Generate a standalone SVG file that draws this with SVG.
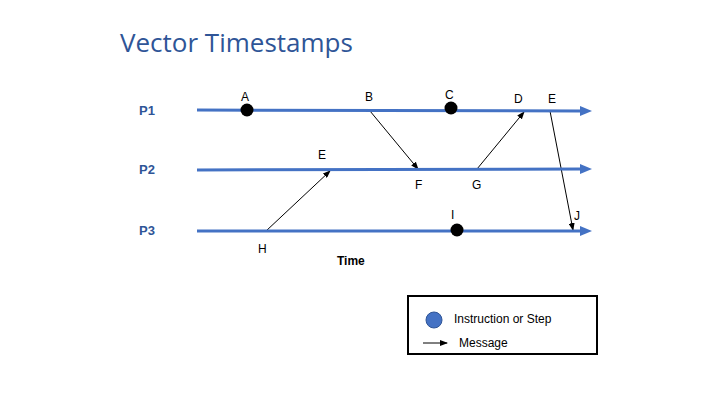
<svg xmlns="http://www.w3.org/2000/svg" width="720" height="405" viewBox="0 0 720 405">
<style>
.lbl{font-family:"Liberation Sans",Arial,sans-serif;font-size:12px;fill:#000}
.p{font-family:"Liberation Sans",Arial,sans-serif;font-size:13px;font-weight:bold;fill:#2F5597}
.tl{stroke:#4472C4;stroke-width:3;fill:none}
.msg{stroke:#000;stroke-width:1;fill:none;marker-end:url(#ah)}
</style>
<defs>
<marker id="ah" markerWidth="8" markerHeight="6" refX="7" refY="3" orient="auto" markerUnits="userSpaceOnUse">
<path d="M0,0 L8,3 L0,6 z" fill="#000"/>
</marker>
<marker id="bh" markerWidth="12" markerHeight="10" refX="2" refY="5" orient="auto" markerUnits="userSpaceOnUse">
<path d="M0,0 L12,5 L0,10 z" fill="#4472C4"/>
</marker>
</defs>
<rect width="720" height="405" fill="#fff"/>
<text x="120" y="52" font-family="Open Sans,Liberation Sans,sans-serif" font-size="26" fill="#2F5597">Vector Timestamps</text>

<g id="connectors">
<line class="msg" x1="370" y1="111" x2="418" y2="169"/>
<line class="msg" x1="477" y1="169" x2="524" y2="112"/>
<line class="msg" x1="266" y1="231" x2="330" y2="171"/>
<line class="msg" x1="550" y1="111" x2="573" y2="230"/>
</g>

<g id="P1">
<text class="p" x="139" y="115">P1</text>
<line class="tl" x1="197" y1="110" x2="582" y2="111" marker-end="url(#bh)"/>
</g>
<g id="P2">
<text class="p" x="139" y="174">P2</text>
<line class="tl" x1="197" y1="170" x2="582" y2="169" marker-end="url(#bh)"/>
</g>
<g id="P3">
<text class="p" x="139" y="235">P3</text>
<line class="tl" x1="197" y1="231" x2="582" y2="231" marker-end="url(#bh)"/>
</g>

<g id="A"><circle cx="247" cy="110" r="6.5" fill="#000"/><text class="lbl" x="241" y="101">A</text></g>
<g id="B"><text class="lbl" x="365" y="101">B</text></g>
<g id="C"><circle cx="451" cy="108" r="6.5" fill="#000"/><text class="lbl" x="445" y="99">C</text></g>
<g id="D"><text class="lbl" x="514" y="103">D</text></g>
<g id="E1"><text class="lbl" x="548" y="103">E</text></g>
<g id="E2"><text class="lbl" x="318" y="159">E</text></g>
<g id="F"><text class="lbl" x="415" y="189">F</text></g>
<g id="G"><text class="lbl" x="472" y="189">G</text></g>
<g id="H"><text class="lbl" x="258" y="253">H</text></g>
<g id="I"><circle cx="457" cy="230" r="6.5" fill="#000"/><text class="lbl" x="451" y="219">I</text></g>
<g id="J"><text class="lbl" x="574" y="220">J</text></g>
<text x="337" y="265" font-family="Liberation Sans,Arial,sans-serif" font-size="12" font-weight="bold" fill="#000">Time</text>

<g id="legend">
<rect x="408" y="296" width="189" height="58" fill="#fff" stroke="#000" stroke-width="2"/>
<circle cx="434" cy="320" r="8" fill="#4472C4" stroke="#2F5597" stroke-width="1"/>
<text class="lbl" x="454" y="323" font-size="12.5">Instruction or Step</text>
<line class="msg" x1="423" y1="343" x2="447" y2="343"/>
<text class="lbl" x="459" y="347">Message</text>
</g>
</svg>
